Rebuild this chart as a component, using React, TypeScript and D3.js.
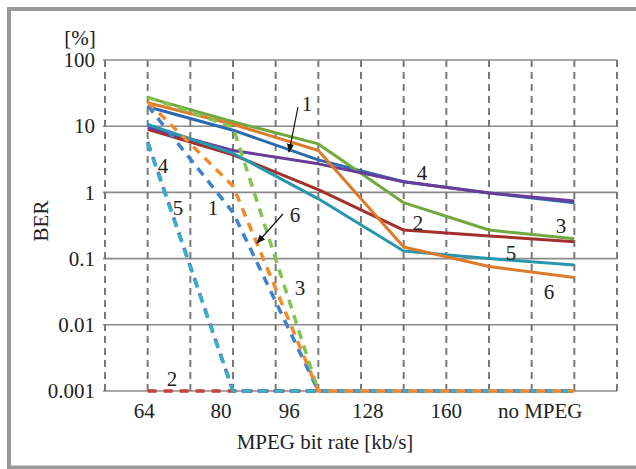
import React from "react";
import * as d3 from "d3";

const categories = ["64", "80", "96", "128", "160", "no MPEG"];
const yTickValues = [0.001, 0.01, 0.1, 1, 10, 100];
const yTickLabels = ["0.001", "0.01", "0.1", "1", "10", "100"];

// solid series (with MPEG)
const solid1 = [19.7, 8.7, 3.1, 1.45, 0.98, 0.7];
const solid2 = [9.0, 3.7, 1.1, 0.27, 0.22, 0.18];
const solid3 = [27, 11.7, 5.4, 0.7, 0.27, 0.2];
const solid4 = [9.6, 4.3, 2.7, 1.45, 0.98, 0.74];
const solid5 = [10.6, 3.9, 0.8, 0.13, 0.1, 0.08];
const solid6 = [22.6, 10.7, 4.3, 0.15, 0.076, 0.052];

// dashed series
const dashed1 = [20.5, 0.5, 0.001, 0.001, 0.001, 0.001];
const dashed2 = [0.001, 0.001, 0.001, 0.001, 0.001, 0.001];
const dashed3 = [27.5, 9.7, 0.001, 0.001, 0.001, 0.001];
const dashed4 = [5.8, 0.001, 0.001, 0.001, 0.001, 0.001];
const dashed5 = [5.6, 0.001, 0.001, 0.001, 0.001, 0.001];
const dashed6 = [23.5, 1.25, 0.001, 0.001, 0.001, 0.001];

const solidColors = ["#2B69B0", "#A3302B", "#72A83F", "#6A3D9A", "#2797AE", "#DD7A2B"];
const dashedColors = ["#3F82CC", "#C8403A", "#86C250", "#7448AA", "#33B2CC", "#F28A2A"];

const solidSeries = [solid1, solid2, solid3, solid4, solid5, solid6];
const dashedSeries = [dashed1, dashed2, dashed3, dashed4, dashed5, dashed6];

// x tick label positions in category units (as placed in the original)
const xLabelPos = [-0.04, 0.86, 1.66, 2.58, 3.5, 4.6];

const annotations = [
  { t: "1", x: 307, y: 104 },
  { t: "4", x: 422, y: 173 },
  { t: "2", x: 418, y: 223 },
  { t: "3", x: 561, y: 226 },
  { t: "5", x: 511, y: 253 },
  { t: "6", x: 549, y: 292 },
  { t: "4", x: 163, y: 166 },
  { t: "5", x: 178, y: 208 },
  { t: "1", x: 213, y: 208 },
  { t: "6", x: 295, y: 215 },
  { t: "3", x: 300, y: 288 },
  { t: "2", x: 172, y: 379 },
];

const arrows = [
  { x1: 298, y1: 107, x2: 289, y2: 152 },
  { x1: 283, y1: 214, x2: 257, y2: 243 },
];

const textStyle: React.CSSProperties = {
  fontFamily: '"Liberation Serif", "Times New Roman", Times, serif',
  fontSize: "21px",
};

export default function App() {
  const W = 636;
  const H = 469;
  const left = 105, right = 617, top = 60, bottom = 391;
  const x = d3.scaleLinear().domain([-0.5, 5.5]).range([left, right]);
  const y = d3.scaleLog().domain([0.001, 100]).range([bottom, top]);
  const line = d3
    .line<number>()
    .x((_, i) => x(i))
    .y((d) => y(d));

  const vGrid = d3.range(-0.5, 5.51, 0.5);

  return (
    <div style={{ position: "fixed", left: 0, top: 0 }}>
      <svg width={W} height={H} style={{ display: "block", background: "#fff" }}>
        <defs>
          <marker id="ah" viewBox="0 0 10 10" refX="9" refY="5" markerWidth="9" markerHeight="9" orient="auto" markerUnits="userSpaceOnUse">
            <path d="M0,1 L10,5 L0,9 Z" fill="#111" />
          </marker>
        </defs>
        <rect x={9} y={9} width={640} height={458.5} fill="#fff" stroke="#9a9a9a" strokeWidth={4} />
        {yTickValues.map((v) => (
          <line key={"h" + v} x1={left - 2} x2={right} y1={y(v)} y2={y(v)} stroke="#8a8a8a" strokeWidth={1.6} />
        ))}
        {vGrid.map((g) => (
          <line key={"v" + g} x1={x(g)} x2={x(g)} y1={top} y2={bottom + 1} stroke="#7a7a7a" strokeWidth={2} strokeDasharray="7,5" />
        ))}
        <g fill="#222" style={textStyle}>
          {yTickValues.map((v, i) => (
            <text key={"yl" + v} x={95} y={y(v)} dy="0.34em" textAnchor="end">
              {yTickLabels[i]}
            </text>
          ))}
          {categories.map((c, i) => (
            <text key={"xl" + c} x={x(xLabelPos[i])} y={418} textAnchor="middle">
              {c}
            </text>
          ))}
          <text x={80} y={45} textAnchor="middle">[%]</text>
          <text transform="translate(48,221) rotate(-90)" textAnchor="middle">BER</text>
          <text x={325} y={449} textAnchor="middle">MPEG bit rate [kb/s]</text>
        </g>
        {solidSeries.map((s, i) => (
          <path key={"s" + i} d={line(s) || ""} fill="none" stroke={solidColors[i]} strokeWidth={3} strokeLinejoin="round" />
        ))}
        {dashedSeries.map((s, i) => (
          <path key={"d" + i} d={line(s) || ""} fill="none" stroke={dashedColors[i]} strokeWidth={3.5} strokeDasharray="9,7" strokeLinejoin="round" />
        ))}
        <g fill="#222" style={textStyle}>
          {annotations.map((a, i) => (
            <text key={"a" + i} x={a.x} y={a.y} dy="0.35em" textAnchor="middle">
              {a.t}
            </text>
          ))}
        </g>
        {arrows.map((a, i) => (
          <line key={"ar" + i} x1={a.x1} y1={a.y1} x2={a.x2} y2={a.y2} stroke="#111" strokeWidth={1.2} markerEnd="url(#ah)" />
        ))}
      </svg>
    </div>
  );
}
